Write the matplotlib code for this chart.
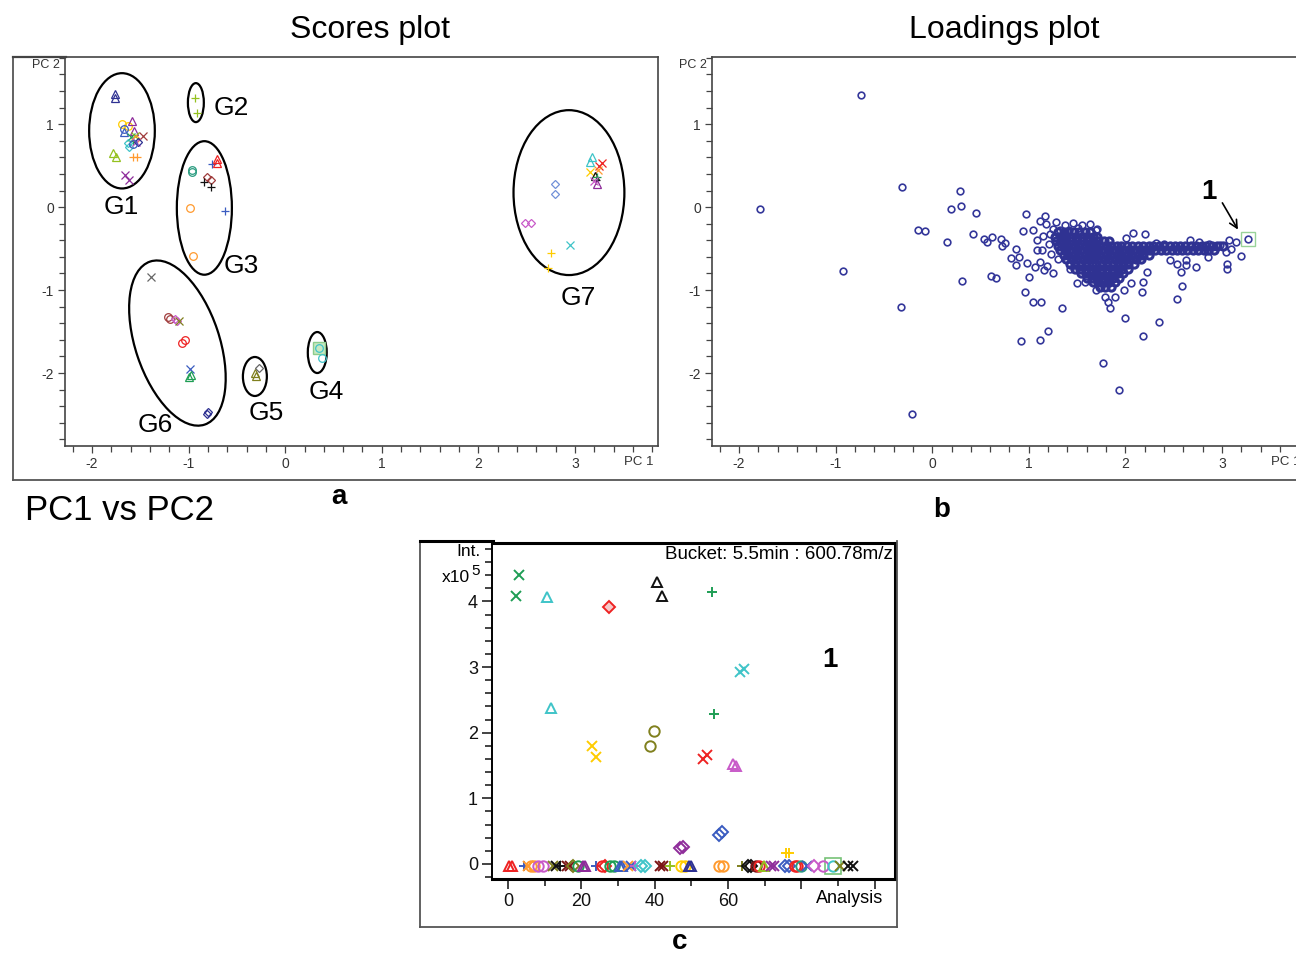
import matplotlib
matplotlib.use("Agg")
import matplotlib.pyplot as plt
from matplotlib.patches import Ellipse
from matplotlib.transforms import Affine2D
from matplotlib.lines import Line2D

plt.rcParams['font.family'] = ['Liberation Sans', 'DejaVu Sans']
plt.rcParams['axes.unicode_minus'] = False

W, H = 1296, 957

# colours used by the analysis software
RED = '#ee2222'; BLUE = '#3a5cc0'; NAVY = '#2e3192'; ORANGE = '#ff9a2e'
YELLOW = '#ffcc00'; GREEN = '#1f9e55'; TEAL = '#2a9c80'; CYAN = '#3fc4c8'
PURPLE = '#8e2c9a'; MAGENTA = '#c85ac8'; BROWN = '#a03c3c'; OLIVE = '#80801e'
BLACK = '#111111'; GRAY = '#666666'; LIME = '#94c11f'; DARKRED = '#7a1414'
LIGHTBLUE = '#7090d8'

# ---- scores (panel a) ----
scores_x = [-1.76, -1.76, -1.69, -1.63, -1.67, -1.67, -1.59, -1.57, -1.47,
            -1.60, -1.56, -1.58, -1.54, -1.63, -1.62, -1.58, -1.53, -1.78,
            -1.75, -1.66, -1.62, -1.55, -1.52, -1.58,
            -0.935, -0.91,
            -0.97, -0.97, -0.76, -0.71, -0.71, -0.81, -0.77, -0.84, -0.77,
            -0.99, -0.62, -0.95,
            -1.39, -1.21, -1.19, -1.14, -1.12, -1.10, -1.07, -1.04, -0.99,
            -1.00, -0.98, -0.80, -0.81,
            -0.31, -0.30, -0.27,
            0.35, 0.38,
            2.79, 2.79, 2.48, 2.55, 2.75, 2.72, 2.95, 3.18, 3.16, 3.25, 3.28,
            3.16, 3.24, 3.21, 3.22, 3.23, 3.23, 3.20]
scores_y = [1.36, 1.32, 1.00, 0.98, 0.94, 0.90, 1.04, 0.92, 0.86,
            0.84, 0.86, 0.80, 0.82, 0.77, 0.72, 0.61, 0.61, 0.65,
            0.60, 0.39, 0.33, 0.78, 0.79, 0.76,
            1.31, 1.13,
            0.45, 0.42, 0.52, 0.58, 0.53, 0.36, 0.33, 0.30, 0.24,
            -0.01, -0.05, -0.59,
            -0.84, -1.33, -1.35, -1.35, -1.37, -1.37, -1.64, -1.60, -1.95,
            -2.05, -2.02, -2.47, -2.49,
            -2.00, -2.04, -1.94,
            -1.70, -1.82,
            0.28, 0.16, -0.19, -0.19, -0.55, -0.73, -0.46, 0.60, 0.54, 0.50, 0.53,
            0.42, 0.45, 0.38, 0.33, 0.36, 0.28, 0.31]
scores_mk = ['^', '^', 'o', 'o', 'o', '^', '^', '^', 'x',
             'x', 'x', '+', 'D', 'D', 'D', '+', '+', '^',
             '^', 'x', 'x', 'x', 'D', 'o',
             '+', '+',
             'o', 'o', '+', '^', '^', 'D', 'D', '+', '+',
             'o', '+', 'o',
             'x', 'o', 'o', 'D', 'D', 'x', 'o', 'o', 'x',
             '^', '^', 'D', 'D',
             '^', '^', 'D',
             'o', 'o',
             'D', 'D', 'D', 'D', '+', '+', 'x', '^', '^', 'x', 'x',
             'x', 'x', '^', '+', '+', '^', 'x']
scores_col = [NAVY, NAVY, YELLOW, YELLOW, BLUE, BLUE, PURPLE, PURPLE, BROWN,
              GREEN, LIME, GREEN, ORANGE, CYAN, CYAN, ORANGE, ORANGE, LIME,
              LIME, PURPLE, PURPLE, MAGENTA, NAVY, BLUE,
              LIME, LIME,
              TEAL, TEAL, BLUE, RED, RED, BROWN, BROWN, BLACK, BLACK,
              ORANGE, BLUE, ORANGE,
              GRAY, BROWN, BROWN, MAGENTA, MAGENTA, OLIVE, RED, RED, BLUE,
              GREEN, GREEN, NAVY, NAVY,
              OLIVE, OLIVE, GRAY,
              CYAN, CYAN,
              LIGHTBLUE, LIGHTBLUE, MAGENTA, MAGENTA, YELLOW, YELLOW, CYAN, CYAN, CYAN, RED, RED,
              YELLOW, ORANGE, BLACK, BLACK, GREEN, PURPLE, MAGENTA]

# group ellipses: centre, width, height (data units), angle in display
groups = ['G1', 'G2', 'G3', 'G4', 'G5', 'G6', 'G7']
group_cx = [-1.69, -0.925, -0.837, 0.332, -0.314, -1.116, 2.938]
group_cy = [0.92, 1.26, -0.01, -1.753, -2.042, -1.639, 0.175]
group_w = [0.68, 0.165, 0.57, 0.196, 0.248, 1.78, 1.148]
group_h = [1.39, 0.47, 1.61, 0.494, 0.47, 0.87, 1.988]
group_ang = [0, 0, 0, 0, 0, -71.5, 0]
group_lx = [-1.70, -0.56, -0.45, 0.42, -0.20, -1.35, 3.04]
group_ly = [0.0, 1.19, -0.71, -2.23, -2.48, -2.63, -1.10]

# ---- loadings (panel b) ----
load_x = [-0.74, -1.78, -0.31, -0.92, -0.32, -0.21, -0.15, -0.07, 0.15, 0.19,
          0.29, 0.30, 0.45, 0.42, 0.54, 0.57, 0.62, 0.31, 0.61, 0.66,
          0.97, 1.17, 1.12, 1.04, 0.94, 0.71, 0.75, 0.72, 0.87, 0.82,
          0.90, 0.87, 0.98, 1.06, 1.16, 1.25, 1.00, 0.96, 1.04, 1.13,
          1.34, 0.92, 1.12, 1.20, 1.77, 1.93, 2.00, 2.18, 2.35, 2.53,
          2.59, 2.58, 2.73, 2.63, 2.86, 3.05, 3.05, 3.20, 3.04,
          1.25, 1.32, 1.42, 1.51, 1.70, 1.71, 1.22, 1.15, 1.08, 1.14,
          1.23, 1.08, 2.01, 2.08, 2.20, 2.32, 2.40, 2.67, 2.76, 2.87,
          2.98, 3.07, 3.09, 3.15, 1.43, 1.50, 1.58, 1.70, 1.79, 1.82,
          1.84, 1.89, 1.99, 2.06, 2.17, 2.18, 2.22, 2.46, 2.53, 2.63,
          1.18, 1.28, 1.37, 1.46, 1.55, 1.63, 1.21, 1.30, 1.12, 1.19]
load_y = [1.35, -0.02, 0.24, -0.77, -1.20, -2.49, -0.27, -0.29, -0.42, -0.02,
          0.20, 0.01, -0.07, -0.33, -0.38, -0.42, -0.36, -0.89, -0.83, -0.86,
          -0.08, -0.11, -0.17, -0.28, -0.29, -0.39, -0.43, -0.47, -0.51, -0.61,
          -0.60, -0.70, -0.67, -0.72, -0.76, -0.80, -0.84, -1.02, -1.14, -1.14,
          -1.22, -1.61, -1.60, -1.49, -1.88, -2.20, -1.34, -1.55, -1.39, -1.11,
          -0.95, -0.78, -0.72, -0.70, -0.60, -0.69, -0.75, -0.59, -0.54,
          -0.26, -0.28, -0.27, -0.25, -0.28, -0.26, -0.33, -0.35, -0.40, -0.52,
          -0.57, -0.52, -0.37, -0.31, -0.33, -0.43, -0.45, -0.40, -0.42, -0.45,
          -0.46, -0.40, -0.50, -0.42, -0.74, -0.91, -0.90, -1.00, -1.08, -1.14,
          -1.22, -1.08, -1.00, -0.92, -1.02, -0.90, -0.78, -0.64, -0.68, -0.64,
          -0.20, -0.18, -0.21, -0.19, -0.22, -0.20, -0.44, -0.62, -0.66, -0.71]
# dense cloud of loadings, one row per level
blob_y = [-0.30, -0.355, -0.41, -0.465, -0.52, -0.575, -0.63, -0.685,
          -0.74, -0.795, -0.85, -0.905, -0.96]
blob_x = [
    [1.30, 1.36, 1.41, 1.47, 1.52, 1.58, 1.63],
    [1.27, 1.33, 1.38, 1.44, 1.49, 1.55, 1.60, 1.66, 1.71],
    [1.28, 1.34, 1.39, 1.45, 1.50, 1.56, 1.61, 1.67, 1.72, 1.78, 1.83],
    [1.30, 1.36, 1.41, 1.47, 1.52, 1.58, 1.63, 1.69, 1.74, 1.80, 1.85, 1.91,
     1.96, 2.02, 2.07, 2.13, 2.18, 2.24, 2.29, 2.35, 2.40, 2.46, 2.51, 2.57,
     2.62, 2.68, 2.73, 2.79, 2.84, 2.90, 2.95, 3.01],
    [1.32, 1.38, 1.43, 1.49, 1.54, 1.60, 1.65, 1.71, 1.76, 1.82, 1.87, 1.93,
     1.98, 2.04, 2.09, 2.15, 2.20, 2.26, 2.31, 2.37, 2.42, 2.48, 2.53, 2.59,
     2.64, 2.70, 2.75, 2.81, 2.86, 2.92],
    [1.36, 1.41, 1.47, 1.52, 1.58, 1.63, 1.69, 1.74, 1.80, 1.85, 1.91, 1.96,
     2.02, 2.07, 2.13, 2.18, 2.24],
    [1.39, 1.45, 1.50, 1.56, 1.61, 1.67, 1.72, 1.78, 1.83, 1.89, 1.94, 2.00,
     2.05, 2.11, 2.16],
    [1.43, 1.48, 1.54, 1.59, 1.65, 1.70, 1.76, 1.81, 1.87, 1.92, 1.98, 2.03, 2.09],
    [1.48, 1.53, 1.59, 1.64, 1.70, 1.75, 1.81, 1.86, 1.92, 1.97, 2.03],
    [1.54, 1.59, 1.65, 1.70, 1.76, 1.81, 1.87, 1.92, 1.98],
    [1.60, 1.65, 1.71, 1.76, 1.82, 1.87, 1.93],
    [1.67, 1.72, 1.78, 1.83, 1.89],
    [1.74, 1.79, 1.85],
]
sel_x, sel_y = 3.27, -0.39   # bucket "1"

# ---- intensity of bucket 1 per analysis (panel c) ----
an_x = [3.0, 2.2, 10.6, 27.5, 40.6, 42.0, 55.6, 63.2, 64.3, 11.7, 56.1, 39.8,
        38.7, 22.9, 24.0, 53.1, 54.2, 61.3, 62.1, 57.5, 58.3, 46.9, 47.7,
        75.7, 76.6,
        0.1, 1.0, 4.2, 5.5, 6.2, 7.0, 8.2, 9.5, 12.3, 13.0, 14.2, 16.0, 16.9,
        17.8, 19.1, 20.4, 21.0, 24.0, 25.6, 26.3, 27.9, 29.0, 30.4, 31.0,
        32.7, 33.6, 34.7, 36.3, 37.2, 41.3, 42.2, 44.2, 47.1, 48.2, 49.4,
        50.0, 57.6, 58.5, 63.9, 65.3, 66.2, 67.5, 68.5, 69.7, 71.7, 72.6,
        75.4, 76.7, 78.1, 78.8, 79.9, 81.5, 83.5, 85.8, 88.5, 90.4, 92.6, 94.0]
an_int = [4.40, 4.08, 4.06, 3.91, 4.29, 4.09, 4.14, 2.92, 2.97, 2.37, 2.28, 2.02,
          1.80, 1.80, 1.63, 1.60, 1.66, 1.52, 1.49, 0.44, 0.49, 0.24, 0.26,
          0.16, 0.16] + [-0.03] * 58
an_mk = ['x', 'x', '^', 'D', '^', '^', '+', 'x', 'x', '^', '+', 'o',
         'o', 'x', 'x', 'x', 'x', '^', '^', 'D', 'D', 'D', 'D', '+', '+',
         '^', '^', '+', 'x', 'o', 'o', 'o', 'o', 'x', 'x', '+', 'x', 'x',
         'D', 'o', '^', '^', '+', 'o', 'D', 'o', 'o', '^', '^',
         'x', 'x', '+', 'D', 'D', 'x', 'x', '+', 'o', 'o', '^',
         '^', 'o', 'o', '+', 'D', 'D', 'o', 'o', '^', 'x', 'x',
         'D', 'D', 'o', 'o', 'o', 'x', 'D', 'o', 'o', 'x', 'x', 'x']
an_col = [GREEN, GREEN, CYAN, RED, BLACK, BLACK, GREEN, CYAN, CYAN, CYAN, GREEN, OLIVE,
          OLIVE, YELLOW, YELLOW, RED, RED, MAGENTA, MAGENTA, BLUE, BLUE, PURPLE, PURPLE,
          YELLOW, YELLOW,
          RED, RED, BLUE, ORANGE, ORANGE, ORANGE, MAGENTA, MAGENTA, OLIVE, BLACK, BLACK,
          DARKRED, DARKRED, OLIVE, GREEN, PURPLE, PURPLE, BLUE, RED, RED, GREEN, GREEN,
          BLUE, BLUE, ORANGE, BLUE, MAGENTA, CYAN, CYAN, DARKRED, DARKRED, LIME,
          YELLOW, YELLOW, NAVY, NAVY, ORANGE, ORANGE, OLIVE, BLACK, BLACK, DARKRED,
          RED, LIME, PURPLE, PURPLE, BLUE, BLUE, RED, RED, TEAL, BLUE, MAGENTA,
          MAGENTA, CYAN, OLIVE, BLACK, BLACK]
an_sel = 88.5


def box(l, t, r, b):
    return [l / W, 1 - b / H, (r - l) / W, (b - t) / H]


def fig_line(fig, x0, y0, x1, y1, lw=1.3, color='#555555'):
    fig.add_artist(Line2D([x0 / W, x1 / W], [1 - y0 / H, 1 - y1 / H],
                          transform=fig.transFigure, lw=lw, color=color))


def fig_text(fig, x, y, s, **kw):
    fig.text(x / W, 1 - y / H, s, **kw)


def draw_mark(ax, x, y, mk, col, ms, mew, face='none'):
    if mk in ('x', '+'):
        ax.plot(x, y, mk, color=col, ms=ms, mew=mew)
    else:
        ax.plot(x, y, mk, mfc=face, mec=col, ms=ms * (0.8 if mk == 'D' else 1), mew=mew)


def pca_axes(ax):
    ax.set_xlim(-2.28, 3.86)
    ax.set_ylim(-2.88, 1.81)
    ax.set_xticks([-2, -1, 0, 1, 2, 3])
    ax.set_xticks([v / 5 for v in range(-11, 20)], minor=True)
    ax.set_yticks([-2, -1, 0, 1])
    ax.set_yticks([v / 5 for v in range(-14, 10)], minor=True)
    ax.tick_params(which='both', direction='out', color='#444444', width=0.9,
                   labelsize=10, labelcolor='#333333', pad=3)
    ax.tick_params(which='major', length=5)
    ax.tick_params(which='minor', length=4)
    for s in ax.spines.values():
        s.set_color('#444444')
        s.set_linewidth(1.2)
    ax.text(-2.33, 1.71, 'PC 2', ha='right', va='center', fontsize=9, color='#333333')
    ax.text(3.66, -3.0, 'PC 1', ha='center', va='top', fontsize=9.5,
            color='#333333', clip_on=False)


fig = plt.figure(figsize=(W / 100, H / 100), dpi=100)

# ---------------- panel a ----------------
ax_a = fig.add_axes(box(65, 57, 658, 446))
pca_axes(ax_a)
ax_a.plot(0.35, -1.70, 's', ms=9, mfc='#c8e8c0', mec='#8ccc8c', mew=1)
for x, y, mk, c in zip(scores_x, scores_y, scores_mk, scores_col):
    draw_mark(ax_a, x, y, mk, c, 5.5, 0.9)

# isotropic frame for the group ellipses
sx = 593 / (3.86 + 2.28)
sy = 389 / (1.81 + 2.88)
r = sy / sx
iso = Affine2D().scale(1, 1 / r) + ax_a.transData
for g, cx, cy, w, h, a, lx, ly in zip(groups, group_cx, group_cy, group_w, group_h,
                                      group_ang, group_lx, group_ly):
    if a == 0:
        e = Ellipse((cx, cy * r), w, h * r, angle=0, transform=iso)
    else:
        e = Ellipse((cx, cy * r), w, h, angle=a, transform=iso)
    e.set_fill(False)
    e.set_edgecolor('black')
    e.set_linewidth(1.6)
    ax_a.add_patch(e)
    ax_a.text(lx, ly, g, ha='center', va='center', fontsize=19)

# ---------------- panel b ----------------
ax_b = fig.add_axes(box(712, 57, 1305, 446))
pca_axes(ax_b)
bx, by = [], []
for yy, row in zip(blob_y, blob_x):
    bx += row
    by += [yy] * len(row)
ax_b.plot(load_x, load_y, 'o', mfc='none', mec='#34379a', ms=4.8, mew=1.2)
ax_b.plot(bx, by, 'o', mfc='none', mec='#2f3292', ms=5.2, mew=2.2)
ax_b.plot(sel_x, sel_y, 'o', mfc='none', mec='#34379a', ms=4.8, mew=1.2)
ax_b.plot(sel_x, sel_y, 's', mfc='none', mec='#99d399', ms=10, mew=1)
ax_b.text(2.87, 0.18, '1', ha='center', va='center', fontsize=20, fontweight='bold')
ax_b.annotate('', xy=(3.18, -0.30), xytext=(2.99, 0.08),
              arrowprops=dict(arrowstyle='->', lw=1.2, color='black', mutation_scale=14))

# ---------------- panel c ----------------
ax_c = fig.add_axes(box(492, 543, 895, 879))
ax_c.set_xlim(-4.4, 105.5)
ax_c.set_ylim(-0.23, 4.89)
ax_c.set_xticks([0, 20, 40, 60, 80, 100])
ax_c.set_xticklabels(['0', '20', '40', '60', '', ''])
ax_c.set_xticks([10, 30, 50, 70, 90], minor=True)
ax_c.set_yticks([0, 1, 2, 3, 4])
ax_c.set_yticks([v / 5 for v in range(-1, 25)], minor=True)
ax_c.tick_params(which='both', direction='out', color='#222222', width=1.2,
                 labelsize=13, labelcolor='#111111', pad=3)
ax_c.tick_params(which='major', length=7)
ax_c.tick_params(which='minor', length=5)
for name, s in ax_c.spines.items():
    s.set_color('black')
    s.set_linewidth(2.2 if name in ('top', 'right', 'bottom') else 1.4)
ax_c.plot(an_sel, -0.03, 's', mfc='none', mec='#77c277', ms=12, mew=1.2)
for x, y, mk, c in zip(an_x, an_int, an_mk, an_col):
    face = '#f7c8c8' if (mk == 'D' and c == RED and y > 1) else 'none'
    draw_mark(ax_c, x, y, mk, c, 7.5, 1.4, face)
ax_c.text(87.7, 3.10, '1', ha='center', va='center', fontsize=20, fontweight='bold')
ax_c.text(105, 4.85, 'Bucket: 5.5min : 600.78m/z', ha='right', va='top', fontsize=13.5)
ax_c.text(93, -0.53, 'Analysis', ha='center', va='center', fontsize=13)

# ---------------- frames and titles ----------------
fig_line(fig, 13, 57, 13, 480)
fig_line(fig, 13, 57, 66, 57, lw=1.6, color='#444444')
fig_line(fig, 13, 480, W + 5, 480)
fig_line(fig, 420, 541, 420, 927)
fig_line(fig, 420, 927, 897, 927)
fig_line(fig, 897, 541, 897, 927)
fig_line(fig, 420, 541, 493, 541, lw=2.2, color='black')

fig_text(fig, 370, 30, 'Scores plot', ha='center', va='center', fontsize=23)
fig_text(fig, 1004, 30, 'Loadings plot', ha='center', va='center', fontsize=23)
fig_text(fig, 25, 510, 'PC1 vs PC2', ha='left', va='center', fontsize=25)
fig_text(fig, 339, 497, 'a', ha='center', va='center', fontsize=20, fontweight='bold')
fig_text(fig, 942, 510, 'b', ha='center', va='center', fontsize=20, fontweight='bold')
fig_text(fig, 680, 942, 'c', ha='center', va='center', fontsize=20, fontweight='bold')
fig_text(fig, 481, 552, 'Int.', ha='right', va='center', fontsize=12.5)
fig_text(fig, 470, 578, 'x10', ha='right', va='center', fontsize=12.5)
fig_text(fig, 471, 571, '5', ha='left', va='center', fontsize=11)

fig.savefig('out.png', dpi=100)
